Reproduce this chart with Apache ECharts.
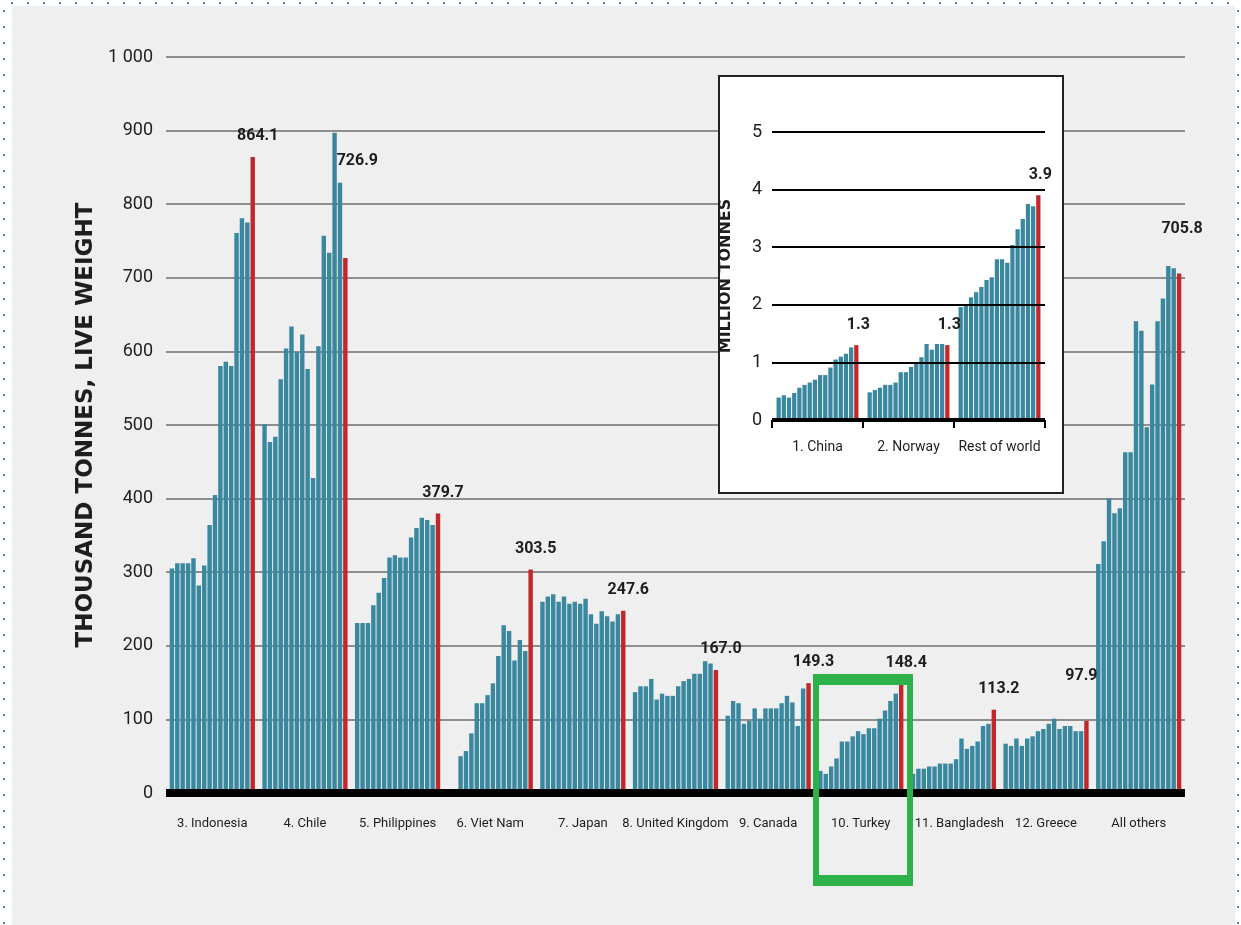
<!DOCTYPE html>
<html>
<head>
<meta charset="utf-8">
<script src="https://cdn.jsdelivr.net/npm/echarts@6/dist/echarts.min.js"></script>
<style>
  html, body { margin:0; padding:0; background:#ffffff; width:1241px; height:925px; overflow:hidden; }
  #bg { position:absolute; left:12px; top:6px; right:6px; bottom:0; background:#efefef; }
  #dotsTop { position:absolute; left:0; top:2px; width:1241px; height:2px;
    background: repeating-linear-gradient(to right, transparent 0 11px, #4f81bd 11px 13px, transparent 13px 16px); }
  #dotsLeft { position:absolute; left:3px; top:0; width:2px; height:925px;
    background: repeating-linear-gradient(to bottom, transparent 0 10px, #4f81bd 10px 12px, transparent 12px 16px); }
  #dotsRight { position:absolute; right:2px; top:0; width:2px; height:925px;
    background: repeating-linear-gradient(to bottom, transparent 0 10px, #4f81bd 10px 12px, transparent 12px 16px); }
  #chart { position:absolute; left:0; top:0; width:1241px; height:925px; }
</style>
</head>
<body>
<div id="bg"></div>
<div id="dotsTop"></div>
<div id="dotsLeft"></div>
<div id="dotsRight"></div>
<div id="chart"></div>
<script>
// ---- Main chart data (thousand tonnes, live weight), 16 yearly bars per producer; last bar is the latest year
const categories = ['3. Indonesia','4. Chile','5. Philippines','6. Viet Nam','7. Japan','8. United Kingdom','9. Canada','10. Turkey','11. Bangladesh','12. Greece','All others'];
const indonesia     = [305,312,312,312,319,282,309,364,405,580,586,580,761,781,775,864.1];
const chile         = [501,477,484,562,604,634,599,623,576,428,607,757,734,897,829,726.9];
const philippines   = [231,231,231,255,272,292,320,323,320,320,347,360,374,371,364,379.7];
const vietNam       = [0,0,50,57,81,122,122,133,149,186,228,220,180,208,193,303.5];
const japan         = [260,267,270,260,267,257,260,257,264,243,230,247,240,233,243,247.6];
const unitedKingdom = [137,145,145,155,127,135,132,132,145,152,155,162,162,179,176,167.0];
const canada        = [105,125,122,94,98,115,101,115,115,115,122,132,123,91,142,149.3];
const turkey        = [30,26,36,47,70,70,77,84,80,88,88,101,112,125,135,148.4];
const bangladesh    = [26,33,33,36,36,40,40,40,46,74,60,64,70,91,94,113.2];
const greece        = [67,64,74,64,74,77,84,87,94,101,87,91,91,84,84,97.9];
const allOthers     = [311,342,400,380,387,463,463,641,628,497,555,641,672,716,713,705.8];

// ---- Inset data (million tonnes)
const insetCategories = ['1. China','2. Norway','Rest of world'];
const china       = [0.39,0.43,0.39,0.47,0.56,0.61,0.65,0.70,0.78,0.78,0.91,1.05,1.10,1.15,1.26,1.3];
const norway      = [0.48,0.52,0.56,0.61,0.61,0.65,0.83,0.83,0.92,1.00,1.09,1.32,1.22,1.32,1.32,1.3];
const restOfWorld = [1.96,2.00,2.13,2.22,2.31,2.43,2.48,2.79,2.79,2.73,3.04,3.31,3.49,3.75,3.71,3.9];

const mainRows = [indonesia, chile, philippines, vietNam, japan, unitedKingdom, canada, turkey, bangladesh, greece, allOthers];
const insetRows = [china, norway, restOfWorld];

const TEAL = '#3a87a0';
const RED = '#c1272b';
const NARROW = "Roboto, 'Liberation Sans', sans-serif";
const WIDE = "'DejaVu Sans', Verdana, sans-serif";
const INK = '#1e1e1e';

// label placement tweaks (styling only)
const mainLabelOffsets = { 1: [12, -76], 9: [-5, -24], 10: [3, -24] };
const categoryLabelPadding = { 8: [0, 0, 0, 12] };

const nBars = indonesia.length;
const series = [];
for (let i = 0; i < nBars; i++) {
  const last = i === nBars - 1;
  series.push({
    type: 'bar', name: 'main' + (i + 1), xAxisIndex: 0, yAxisIndex: 0,
    barGap: '22%', barCategoryGap: '8%', z: 2,
    itemStyle: { color: last ? RED : TEAL },
    data: mainRows.map((row, k) => last ? {
      value: row[i],
      label: {
        show: true, position: 'top', distance: 13,
        offset: mainLabelOffsets[k] || [5, 0],
        formatter: p => p.value.toFixed(1),
        fontFamily: NARROW, fontSize: 16, fontWeight: 'bold', color: INK
      }
    } : row[i])
  });
}
for (let i = 0; i < nBars; i++) {
  const last = i === nBars - 1;
  series.push({
    type: 'bar', name: 'inset' + (i + 1), xAxisIndex: 1, yAxisIndex: 1,
    barGap: '22%', barCategoryGap: '10%', z: 22,
    itemStyle: { color: last ? RED : TEAL },
    data: insetRows.map(row => last ? {
      value: row[i],
      label: {
        show: true, position: 'top', distance: 12, offset: [2, 0],
        formatter: p => p.value.toFixed(1),
        fontFamily: NARROW, fontSize: 16, fontWeight: 'bold', color: INK
      }
    } : row[i])
  });
}

const mainCategoryData = categories.map((c, k) =>
  categoryLabelPadding[k] ? { value: c, textStyle: { padding: categoryLabelPadding[k] } } : c);

const chart = echarts.init(document.getElementById('chart'), null, { renderer: 'canvas' });
chart.setOption({
  animation: false,
  backgroundColor: 'transparent',
  grid: [
    { left: 166, right: 56, top: 57, bottom: 132 },
    { left: 772, right: 196, top: 132, bottom: 505 }
  ],
  xAxis: [
    {
      type: 'category', gridIndex: 0, data: mainCategoryData, z: 5,
      axisLine: { show: true, lineStyle: { color: '#000', width: 8, cap: 'butt' } },
      axisTick: { show: false },
      axisLabel: { interval: 0, margin: 24, fontFamily: NARROW, fontSize: 13, color: INK }
    },
    {
      type: 'category', gridIndex: 1, data: insetCategories, z: 25,
      axisLine: { show: true, lineStyle: { color: '#000', width: 4, cap: 'butt' } },
      axisTick: { show: true, length: 8, lineStyle: { color: '#000', width: 2 } },
      axisLabel: { interval: 0, margin: 20, fontFamily: NARROW, fontSize: 14, color: INK }
    }
  ],
  yAxis: [
    {
      type: 'value', gridIndex: 0, min: 0, max: 1000, interval: 100,
      name: 'THOUSAND TONNES, LIVE WEIGHT', nameLocation: 'middle', nameRotate: 90, nameGap: 63,
      nameTextStyle: { fontFamily: WIDE, fontWeight: 'bold', fontSize: 23, color: INK },
      axisLine: { show: false }, axisTick: { show: false },
      axisLabel: { margin: 13, fontFamily: NARROW, fontSize: 18, color: INK,
        formatter: v => v === 1000 ? '1 000' : String(v) },
      splitLine: { show: true, lineStyle: { color: '#8e8e8e', width: 2 } }
    },
    {
      type: 'value', gridIndex: 1, min: 0, max: 5, interval: 1, z: 25,
      name: 'MILLION TONNES', nameLocation: 'middle', nameRotate: 90, nameGap: 38,
      nameTextStyle: { fontFamily: WIDE, fontWeight: 'bold', fontSize: 16, color: INK },
      axisLine: { show: false }, axisTick: { show: false },
      axisLabel: { margin: 10, fontFamily: NARROW, fontSize: 18, color: INK },
      splitLine: { show: true, lineStyle: { color: '#000', width: 2 } }
    }
  ],
  graphic: [
    {
      type: 'rect', z: 10,
      shape: { x: 719, y: 76, width: 344, height: 417 },
      style: { fill: '#ffffff', stroke: '#222', lineWidth: 2 }
    },
    { type: 'rect', z: 30, shape: { x: 813, y: 674, width: 100, height: 11 }, style: { fill: '#2db24a' } },
    { type: 'rect', z: 30, shape: { x: 813, y: 875, width: 100, height: 11 }, style: { fill: '#2db24a' } },
    { type: 'rect', z: 30, shape: { x: 813, y: 674, width: 6, height: 212 }, style: { fill: '#2db24a' } },
    { type: 'rect', z: 30, shape: { x: 907, y: 674, width: 6, height: 212 }, style: { fill: '#2db24a' } }
  ],
  series: series
});
</script>
</body>
</html>
